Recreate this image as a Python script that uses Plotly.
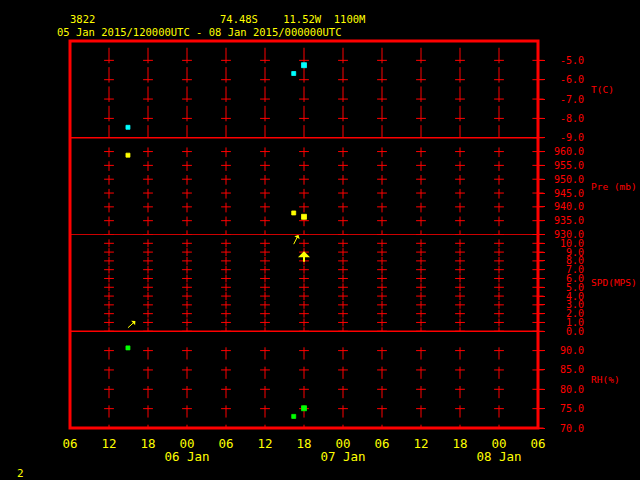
import math
import pandas as pd
import plotly.graph_objects as go

# ---------------- data ----------------
obs_time = ["2015-01-05 14:55", "2015-01-06 16:25", "2015-01-06 18:00"]
temp_c = [-8.46, -5.68, -5.25]
pres_mb = [958.7, 937.8, 936.4]
wind_spd = [0.4, 9.9, 7.9]
wind_dir = [228, 207, 180]          # direction wind blows from (deg)
rh_pct = [90.7, 73.0, 75.1]

t_ticks = [-9, -8, -7, -6, -5]
p_ticks = [930, 935, 940, 945, 950, 955, 960]
s_ticks = [0, 1, 2, 3, 4, 5, 6, 7, 8, 9, 10]
r_ticks = [70, 75, 80, 85, 90]

t_range = [-9, -4]
p_range = [930, 965]
s_range = [0, 11]
r_range = [70, 95]

panel_titles = ["T(C)", "Pre (mb)", "SPD(MPS)", "RH(%)"]
station = "3822"
location = "74.48S\u00a0\u00a0\u00a0\u00a011.52W\u00a0\u00a01100M"
period = "05 Jan 2015/120000UTC - 08 Jan 2015/000000UTC"
footer = "2"

x_start = "2015-01-05 06:00"
x_end = "2015-01-08 06:00"
grid_times = list(pd.date_range("2015-01-05 12:00", "2015-01-08 00:00", freq="6h"))
hour_ticks = list(pd.date_range(x_start, x_end, freq="6h"))
day_ticks = list(pd.date_range("2015-01-06 00:00", "2015-01-08 00:00", freq="24h"))

# ---------------- styling ----------------
W, H = 640, 480
L, R, T, B = 70, 102, 41, 51.7
PW, PH = W - L - R, H - T - B
RED = "#ff0000"
YEL = "#ffff00"
MONO = "DejaVu Sans Mono"
small = [4, 4, 5]
arrow_w = [1, 1, 2]


def px_x(px):
    return (px - L) / PW


def px_y(py):
    return (H - B - py) / PH


panels = [
    dict(ax="y", ticks=t_ticks, rng=t_range, dom=[0.75, 1.0], below=0.15, above=0.65),
    dict(ax="y2", ticks=p_ticks, rng=p_range, dom=[0.5, 0.75], below=2.0, above=1.5),
    dict(ax="y3", ticks=s_ticks, rng=s_range, dom=[0.25, 0.5], below=0.45, above=0.45),
    dict(ax="y4", ticks=r_ticks, rng=r_range, dom=[0.0, 0.25], below=2.3, above=0.85),
]

fig = go.Figure()

for p in panels:
    xs, ys = [], []
    cx, cy = [], []
    for gt in grid_times:
        for v in p["ticks"]:
            lo = max(v - p["below"], p["rng"][0])
            hi = min(v + p["above"], p["rng"][1])
            xs += [gt, gt, None]
            ys += [lo, hi, None]
            cx.append(gt)
            cy.append(v)
    fig.add_trace(go.Scatter(x=xs, y=ys, mode="lines", yaxis=p["ax"],
                             line=dict(color=RED, width=1),
                             hoverinfo="skip", showlegend=False))
    fig.add_trace(go.Scatter(x=cx, y=cy, mode="markers", yaxis=p["ax"],
                             marker=dict(symbol="line-ew", size=7,
                                         line=dict(color=RED, width=1)),
                             hoverinfo="skip", showlegend=False))
    # crosses on right frame
    fig.add_trace(go.Scatter(x=[x_end] * len(p["ticks"]), y=p["ticks"], mode="markers",
                             yaxis=p["ax"], cliponaxis=False,
                             marker=dict(symbol="line-ew", size=8,
                                         line=dict(color=RED, width=1)),
                             hoverinfo="skip", showlegend=False))

# observations
for vals, yax, col in [(temp_c, "y", "#00ffff"), (pres_mb, "y2", YEL),
                       (rh_pct, "y4", "#00ff00")]:
    fig.add_trace(go.Scatter(x=obs_time, y=vals, mode="markers", yaxis=yax,
                             marker=dict(symbol="square", size=small, color=col,
                                         opacity=1, line=dict(width=0.8, color=col)),
                             showlegend=False))
# dummy trace for date axis
fig.add_trace(go.Scatter(x=day_ticks, y=[None] * len(day_ticks), xaxis="x2", yaxis="y4",
                         showlegend=False, hoverinfo="skip"))

annotations = []
ARROW_LEN = 12
for t, s, d, w in zip(obs_time, wind_spd, wind_dir, arrow_w):
    toward = math.radians((d + 180) % 360)
    annotations.append(dict(
        x=t, y=s, xref="x", yref="y3", text="", showarrow=True,
        ax=ARROW_LEN * math.sin(toward), ay=-ARROW_LEN * math.cos(toward),
        arrowside="start", arrowhead=2, arrowsize=1.3 if w == 1 else 1, arrowwidth=w,
        arrowcolor=YEL))

for title, p in zip(panel_titles, panels):
    annotations.append(dict(
        x=px_x(589), y=(p["dom"][0] + p["dom"][1]) / 2, xref="paper", yref="paper",
        text=title, showarrow=False, xanchor="left", yanchor="middle",
        font=dict(family=MONO, size=9.5, color=RED)))

annotations += [
    dict(x=px_x(68), y=px_y(18.5), text=station),
    dict(x=px_x(218), y=px_y(18.5), text=location),
    dict(x=px_x(55), y=px_y(31.5), text=period),
    dict(x=px_x(15), y=px_y(474), text=footer),
]
for a in annotations[-4:]:
    a.update(xref="paper", yref="paper", showarrow=False, xanchor="left",
             yanchor="middle", font=dict(family=MONO, size=10.5, color=YEL))
annotations[-1]["font"] = dict(family=MONO, size=11, color=YEL)

shapes = [
    dict(type="rect", xref="paper", yref="paper", x0=0, x1=1, y0=0, y1=1,
         line=dict(color=RED, width=3)),
    dict(type="line", xref="paper", yref="paper", x0=0, x1=1, y0=0.75, y1=0.75,
         line=dict(color=RED, width=1.5)),
    dict(type="line", xref="paper", yref="paper", x0=0, x1=1, y0=0.5, y1=0.5,
         line=dict(color=RED, width=0.8)),
    dict(type="line", xref="paper", yref="paper", x0=0, x1=1, y0=0.25, y1=0.25,
         line=dict(color=RED, width=1.5)),
]

layout = dict(
    width=W, height=H,
    margin=dict(l=L, r=R, t=T, b=B, pad=0),
    paper_bgcolor="black", plot_bgcolor="black",
    showlegend=False,
    annotations=annotations, shapes=shapes,
    xaxis=dict(type="date", range=[x_start, x_end], anchor="y4",
               tickvals=hour_ticks, tickformat="%H", ticks="",
               showgrid=False, zeroline=False, showline=False,
               ticklabelstandoff=6,
               tickfont=dict(family=MONO, size=12.5, color=YEL)),
    xaxis2=dict(type="date", range=[x_start, x_end], anchor="y4", overlaying="x",
                side="bottom", tickvals=day_ticks, tickformat="%d %b", ticks="",
                showgrid=False, zeroline=False, showline=False,
                ticklabelstandoff=19,
                tickfont=dict(family=MONO, size=12.5, color=YEL)),
)

for i, p in enumerate(panels):
    key = "yaxis" if i == 0 else "yaxis%d" % (i + 1)
    layout[key] = dict(
        domain=p["dom"], range=p["rng"], anchor="x", side="right",
        tickvals=p["ticks"],
        ticktext=[("%.1f" % v).rjust(5, "\u00a0") for v in p["ticks"]],
        ticks="outside", ticklen=6, tickwidth=1, tickcolor=RED,
        showgrid=False, zeroline=False, showline=False,
        ticklabelstandoff=7,
        tickfont=dict(family=MONO, size=10, color=RED))

fig.update_layout(**layout)
fig.write_html("out.html",
               config={"displayModeBar": False},
               post_script="document.body.style.margin='0';"
                           "document.body.style.background='black';")
